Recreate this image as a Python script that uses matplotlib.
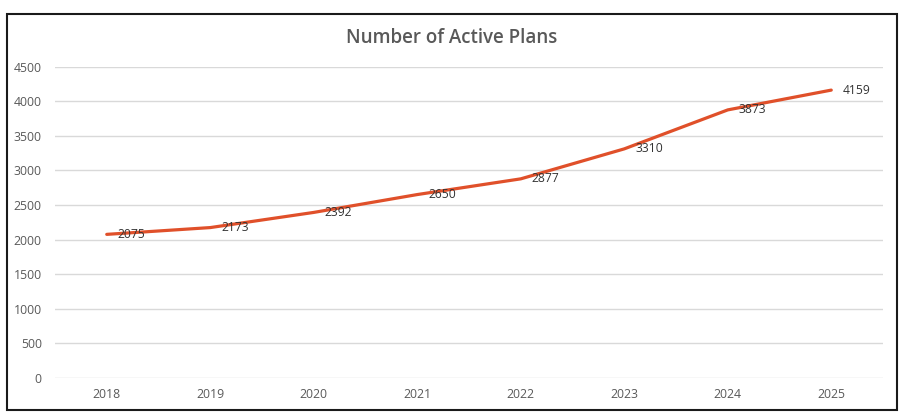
import matplotlib
matplotlib.use("Agg")
import matplotlib.pyplot as plt
from matplotlib.patches import Rectangle

years = ["2018", "2019", "2020", "2021", "2022", "2023", "2024", "2025"]
active_plans = [2075, 2173, 2392, 2650, 2877, 3310, 3873, 4159]
y_ticks = [0, 500, 1000, 1500, 2000, 2500, 3000, 3500, 4000, 4500]

plt.rcParams['font.family'] = ['Open Sans', 'DejaVu Sans']

W, H = 907, 415
fig = plt.figure(figsize=(W / 100, H / 100), dpi=100)
fig.patch.set_facecolor('white')

# chart border
fig.patches.append(Rectangle((7 / W, 1 - 410 / H), (897 - 7) / W, (410 - 14) / H,
                             transform=fig.transFigure, fill=False,
                             edgecolor='#1a1a1a', linewidth=1.5))

ax = fig.add_axes([55 / W, 1 - 378 / H, (883 - 55) / W, (378 - 66.5) / H])
x = list(range(len(years)))
ax.plot(x, active_plans, color='#E0502A', linewidth=2.3,
        solid_capstyle='round', solid_joinstyle='round', zorder=3)

for xi, v in zip(x, active_plans):
    ax.annotate(str(v), (xi, v), xytext=(8, 0), textcoords='offset points',
                ha='left', va='center', fontsize=8.7, color='#333333', zorder=4)

ax.set_xlim(-0.5, len(years) - 0.5)
ax.set_ylim(0, 4500)
ax.set_yticks(y_ticks)
ax.set_xticks(x)
ax.set_xticklabels(years)
ax.tick_params(axis='both', length=0, labelsize=8.8, labelcolor='#595959')
ax.tick_params(axis='y', pad=9.5)
ax.tick_params(axis='x', pad=7)
ax.grid(axis='y', color='#d9d9d9', linewidth=1.0)
ax.set_axisbelow(True)
for s in ax.spines.values():
    s.set_visible(False)

fig.text(452 / W, 1 - 38 / H, "Number of Active Plans", ha='center', va='center',
         fontsize=13.5, fontweight='semibold', color='#595959')

fig.savefig("out.png", dpi=100, facecolor='white')
